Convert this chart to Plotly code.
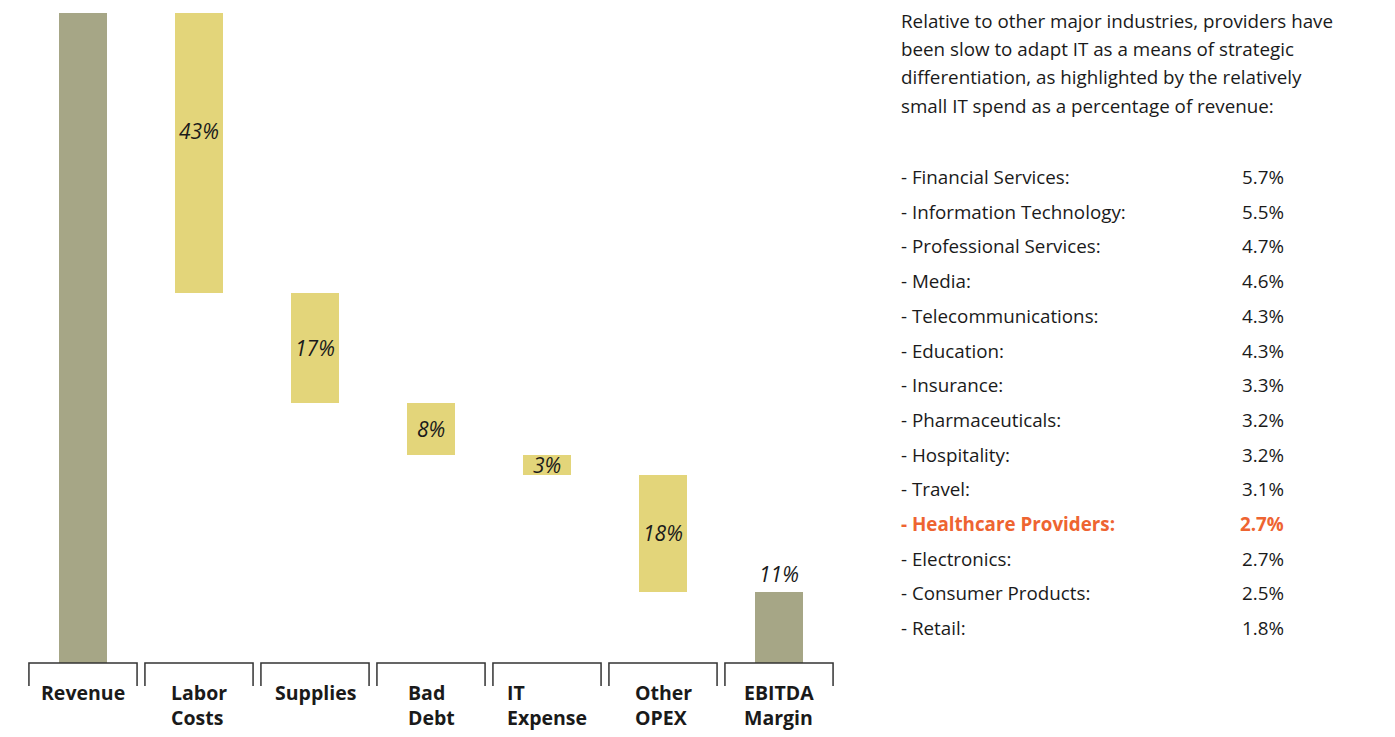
import plotly.graph_objects as go

# Cost structure of a provider, as a share of revenue
categories = ["Revenue", "Labor<br>Costs", "Supplies", "Bad<br>Debt", "IT<br>Expense", "Other<br>OPEX", "EBITDA<br>Margin"]
shares = [100, 43, 17, 8, 3, 18, 11]
kinds = ["total", "cost", "cost", "cost", "cost", "cost", "total"]

# IT spend as a percentage of revenue by industry
industries = ["Financial Services", "Information Technology", "Professional Services", "Media",
              "Telecommunications", "Education", "Insurance", "Pharmaceuticals", "Hospitality",
              "Travel", "Healthcare Providers", "Electronics", "Consumer Products", "Retail"]
it_spend = [5.7, 5.5, 4.7, 4.6, 4.3, 4.3, 3.3, 3.2, 3.2, 3.1, 2.7, 2.7, 2.5, 1.8]
highlight = "Healthcare Providers"

intro_lines = [
    "Relative to other major industries, providers have",
    "been slow to adapt IT as a means of strategic",
    "differentiation, as highlighted by the relatively",
    "small IT spend as a percentage of revenue:",
]

TOTAL_COLOR = "#a6a686"
COST_COLOR = "#e3d57a"
ACCENT = "#ee6431"
TEXT = "#1a1a1a"
FONT = "Open Sans"
BODY_SIZE = 18.8

# waterfall bases: costs step down from revenue, totals start at zero
bases = []
level = shares[0]
for v, k in zip(shares, kinds):
    if k == "total":
        bases.append(0)
    else:
        level -= v
        bases.append(level)

x_idx = list(range(len(categories)))
colors = [TOTAL_COLOR if k == "total" else COST_COLOR for k in kinds]

fig = go.Figure()
fig.add_trace(go.Bar(
    x=x_idx, y=shares, base=bases, width=0.414,
    marker=dict(color=colors, line=dict(width=0)),
    hoverinfo="skip", showlegend=False,
))

W, H = 1395, 737
ML, MR, MT, MB = 25, 558, 0, 74
plot_w = W - ML - MR
plot_h = H - MT - MB


def px_x(px):
    return (px - ML) / plot_w


def px_y(py):
    return (MT + plot_h - py) / plot_h


annotations = []
# value labels on the bars
for i, (v, b, k) in enumerate(zip(shares, bases, kinds)):
    if i == 0:
        continue
    if k == "total":
        y, anchor, shift = b + v, "bottom", 2
    else:
        y, anchor, shift = b + v / 2, "middle", 0
        if i == 1:
            shift = 22
    annotations.append(dict(
        x=i, y=y, xref="x", yref="y", text=f"<i>{v}%</i>", showarrow=False,
        yanchor=anchor, yshift=shift,
        font=dict(family=FONT, size=21, color=TEXT),
    ))

# category labels under each bracket
for i, c in enumerate(categories):
    annotations.append(dict(
        x=i, y=px_y(677), xref="x", yref="paper", text=f"<b>{c}</b>", showarrow=False,
        yanchor="top", xanchor="center", align="left",
        font=dict(family=FONT, size=19.5, color=TEXT),
    ))

# intro paragraph
intro_y = [21, 49, 77, 106]
for line, py in zip(intro_lines, intro_y):
    annotations.append(dict(
        x=px_x(899), y=px_y(py), xref="paper", yref="paper", text=line, showarrow=False,
        xanchor="left", yanchor="middle", font=dict(family=FONT, size=BODY_SIZE, color=TEXT),
    ))

# industry list
row0, row_step = 177, 34.7
for j, (name, val) in enumerate(zip(industries, it_spend)):
    py = row0 + j * row_step
    is_hi = name == highlight
    col = ACCENT if is_hi else TEXT
    lbl = f"- {name}:"
    num = f"{val}%"
    if is_hi:
        lbl, num = f"<b>{lbl}</b>", f"<b>{num}</b>"
    annotations.append(dict(
        x=px_x(899), y=px_y(py), xref="paper", yref="paper", text=lbl, showarrow=False,
        xanchor="left", yanchor="middle", font=dict(family=FONT, size=BODY_SIZE, color=col),
    ))
    annotations.append(dict(
        x=px_x(1286), y=px_y(py), xref="paper", yref="paper", text=num, showarrow=False,
        xanchor="right", yanchor="middle", font=dict(family=FONT, size=BODY_SIZE, color=col),
    ))

# bracket under each category
shapes = []
half = 0.466
drop = px_y(686)
for i in x_idx:
    shapes.append(dict(
        type="path", xref="x", yref="paper",
        path=f"M {i - half},{drop} L {i - half},0 L {i + half},0 L {i + half},{drop}",
        line=dict(color="#333333", width=1.5),
    ))

fig.update_layout(
    width=W, height=H,
    margin=dict(l=ML, r=MR, t=MT, b=MB, pad=0),
    paper_bgcolor="white", plot_bgcolor="white",
    xaxis=dict(range=[-0.5, len(categories) - 0.5], visible=False, fixedrange=True),
    yaxis=dict(range=[0, plot_h / 6.5], visible=False, fixedrange=True),
    annotations=annotations, shapes=shapes,
    bargap=0,
)

fig.write_html("out.html", config={"displayModeBar": False})
